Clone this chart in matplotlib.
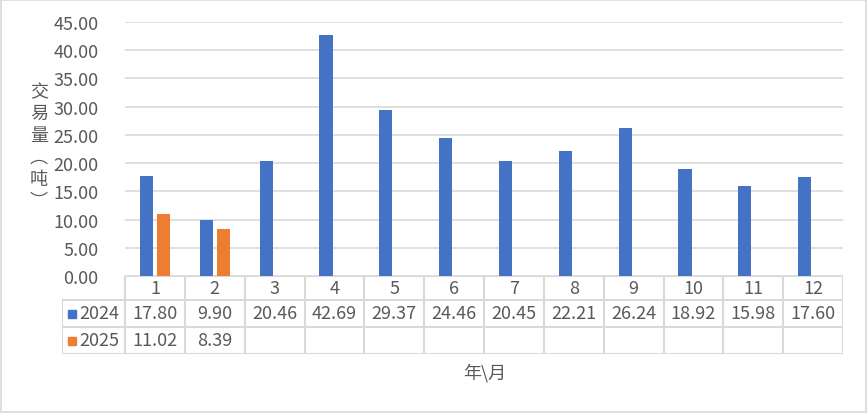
import matplotlib.pyplot as plt
import numpy as np
from matplotlib.patches import Rectangle

plt.rcParams['font.family'] = ['Noto Sans CJK SC', 'DejaVu Sans']

months = ['1', '2', '3', '4', '5', '6', '7', '8', '9', '10', '11', '12']
vol_2024 = [17.80, 9.90, 20.46, 42.69, 29.37, 24.46, 20.45, 22.21, 26.24, 18.92, 15.98, 17.60]
vol_2025 = [11.02, 8.39]
series = ['2024', '2025']
colors = ['#4472C4', '#ED7D31']
grey_txt = '#595959'
grey_line = '#D9D9D9'
fs = 13

W, H = 867, 414
fig = plt.figure(figsize=(W / 100, H / 100), dpi=100)

def fx(px):
    return px / W

def fy(py):
    return 1 - py / H

# outer border
fig.patches.append(Rectangle((fx(1), fy(413)), fx(865), 412 / H, transform=fig.transFigure,
                             fill=False, edgecolor=grey_line, lw=1.2))

left, right, top, base = 125, 843, 23, 277
ax = fig.add_axes([fx(left), fy(base), fx(right - left), (base - top) / H])
x = np.arange(len(months))
bw = 0.22
off = 0.142
ax.bar(x - off, vol_2024, bw, color=colors[0], zorder=3)
ax.bar(x[:len(vol_2025)] + off, vol_2025, bw, color=colors[1], zorder=3)
ax.set_xlim(-0.5, len(months) - 0.5)
ax.set_ylim(0, 45)
ax.set_yticks(np.arange(0, 46, 5))
ax.set_yticklabels(['%.2f' % v for v in np.arange(0, 46, 5)], color=grey_txt, fontsize=fs)
ax.tick_params(axis='y', length=0, pad=19)
ax.set_xticks([])
ax.grid(axis='y', color=grey_line, lw=1.2, zorder=0)
for s in ['top', 'right', 'left', 'bottom']:
    ax.spines[s].set_visible(False)

fig.text(fx(39), fy(147), '交\n易\n量\n︵\n吨\n︶', ha='center', va='center',
         fontsize=13, color=grey_txt, linespacing=1.28)

# data table
tleft, tbot = 62, 355
tax = fig.add_axes([fx(tleft), fy(tbot), fx(right - tleft), (tbot - base) / H])
cat_w = (right - left) / len(months)
tax.set_xlim(-0.5 - (left - tleft) / cat_w, len(months) - 0.5)
tax.set_ylim(tbot, base)
tax.axis('off')
rows = [base, 301, 328, tbot]
lc = dict(color=grey_line, lw=1.5, solid_capstyle='butt')
tax.plot([-0.5, len(months) - 0.5], [base, base], **lc)
x0 = -0.5 - (left - tleft) / cat_w
for r in rows[1:]:
    tax.plot([x0, len(months) - 0.5], [r, r], **lc)
tax.plot([x0, x0], [rows[1], tbot], **lc)
for b in np.arange(-0.5, len(months), 1.0):
    tax.plot([b, b], [base, tbot], **lc)

for i, m in enumerate(months):
    tax.text(i, (rows[0] + rows[1]) / 2, m, ha='center', va='center', fontsize=fs, color=grey_txt)
    tax.text(i, (rows[1] + rows[2]) / 2, '%.2f' % vol_2024[i], ha='center', va='center',
             fontsize=fs, color=grey_txt)
    if i < len(vol_2025):
        tax.text(i, (rows[2] + rows[3]) / 2, '%.2f' % vol_2025[i], ha='center', va='center',
                 fontsize=fs, color=grey_txt)

for k, name in enumerate(series):
    yc = (rows[k + 1] + rows[k + 2]) / 2
    tax.add_patch(Rectangle((x0 + 6 / cat_w, yc - 4), 8 / cat_w, 8, color=colors[k]))
    tax.text(x0 + 17 / cat_w, yc, name, ha='left', va='center', fontsize=fs, color=grey_txt)

fig.text(fx(485), fy(373), '年\\月', ha='center', va='center', fontsize=13, color=grey_txt)

fig.savefig('out.png', dpi=100)
